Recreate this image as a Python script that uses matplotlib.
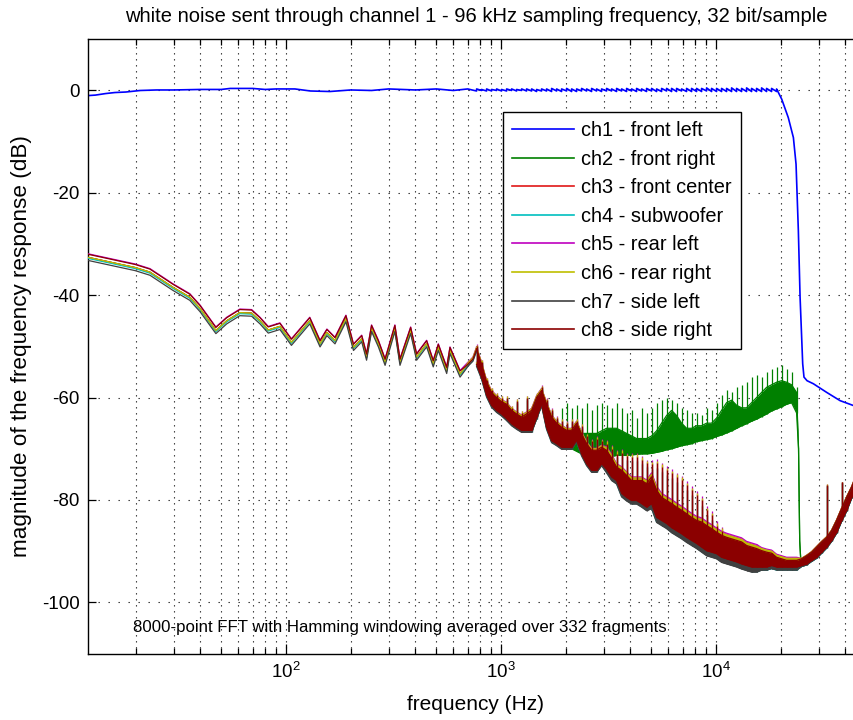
import numpy as np
import matplotlib
matplotlib.use("Agg")
import matplotlib.pyplot as plt
from matplotlib.lines import Line2D
from matplotlib.ticker import LogLocator, NullFormatter, FixedLocator

# ---------------- data ----------------
title_text = "white noise sent through channel 1 - 96 kHz sampling frequency, 32 bit/sample"
xlabel_text = "frequency (Hz)"
ylabel_text = "magnitude of the frequency response (dB)"
note_text = "8000-point FFT with Hamming windowing averaged over 332 fragments"

labels = ["ch1 - front left", "ch2 - front right", "ch3 - front center", "ch4 - subwoofer",
          "ch5 - rear left", "ch6 - rear right", "ch7 - side left", "ch8 - side right"]
colors = ["#0000ff", "#008000", "#e01818", "#00bfbf", "#bf00bf", "#bfbf00", "#404040", "#8b0000"]

yticks = [-100, -80, -60, -40, -20, 0]

# noise floor (channels 3-8), low-frequency part: a single jagged line
low_freq = [12, 19.9, 23.3, 29.9, 35.7, 39.8, 47.2, 53, 61, 69.2, 75.7, 82.7, 93.7, 106, 129, 144,
            155, 169, 190, 206, 225, 237, 250, 269, 289, 321, 339, 380, 405, 451, 484, 511, 559,
            579, 645, 705, 740]
low_db = [-32.6, -34.6, -35.5, -38.5, -40.4, -42.6, -46.9, -45.0, -43.4, -43.5, -45.0, -46.8,
          -46.1, -49.2, -45.0, -49.5, -47.3, -48.9, -44.6, -50.2, -48.5, -52.1, -46.5, -49.5,
          -53.1, -46.5, -53.1, -46.9, -52.1, -49.5, -53.4, -50.2, -54.7, -50.8, -55.4, -53.4, -52.5]

# noise floor, dense part: per frequency bin the lower edge, upper edge and spike top (dB)
fz_freq = [770, 812, 857, 904, 954, 1006, 1062, 1120, 1182, 1247,
           1315, 1388, 1464, 1544, 1629, 1719, 1814, 1913, 2019, 2130,
           2247, 2370, 2501, 2638, 2783, 2936, 3098, 3268, 3448, 3638,
           3838, 4049, 4271, 4506, 4754, 5016, 5292, 5583, 5890, 6213,
           6555, 6916, 7296, 7697, 8121, 8567, 9039, 9536, 10060, 10614,
           11197, 11813, 12463, 13148, 13871, 14634, 15439, 16288, 17184, 18129,
           19127, 20179, 21288, 22459, 23694, 24998, 26372, 27823, 29353, 30968,
           32671, 34468, 36363, 38363, 40473, 42699, 45048, 47525]
floor_lo = [-53.5, -56.0, -59.5, -61.5, -62.5, -63.2, -64.1, -65.1, -65.8, -66.4,
            -66.4, -66.4, -63.8, -61.2, -65.8, -68.4, -69.0, -69.7, -69.7, -69.7,
            -68.3, -71.0, -72.9, -74.2, -74.2, -72.9, -74.0, -75.5, -76.2, -78.7,
            -79.5, -80.1, -80.1, -80.7, -81.4, -80.7, -83.4, -84.0, -84.6, -85.4,
            -86.0, -86.6, -87.3, -87.9, -88.5, -89.2, -89.9, -90.2, -90.5, -91.2,
            -91.5, -91.8, -92.1, -92.5, -92.8, -93.1, -93.1, -93.1, -93.1, -92.8,
            -93.1, -93.1, -93.1, -93.1, -93.1, -92.8, -92.5, -91.8, -91.2, -90.2,
            -89.2, -87.9, -86.3, -84.0, -82.0, -79.5, -77.0, -75.0]
floor_hi = [-50.5, -53.5, -57.0, -59.0, -60.0, -60.8, -61.3, -62.5, -63.2, -63.8,
            -63.2, -62.5, -60.0, -58.6, -61.3, -63.8, -65.0, -65.8, -66.4, -66.4,
            -65.0, -67.1, -69.0, -70.3, -70.3, -69.7, -70.3, -71.8, -73.6, -74.2,
            -75.2, -76.2, -76.2, -76.2, -76.8, -75.5, -78.1, -79.5, -80.1, -80.7,
            -81.4, -82.0, -82.7, -83.4, -84.0, -84.3, -85.0, -85.6, -86.3, -86.9,
            -87.3, -87.6, -87.9, -88.2, -88.9, -89.2, -89.5, -89.9, -90.2, -90.4,
            -91.2, -91.5, -91.8, -91.8, -91.8, -91.5, -90.9, -90.2, -89.2, -88.2,
            -87.3, -86.0, -84.0, -81.7, -79.5, -77.5, -75.0, -73.0]
floor_spike = [-50.0, -53.0, -56.5, -58.5, -59.5, -60.0, -60.0, -62.0, -60.6, -63.0,
               -60.0, -62.0, -59.5, -58.0, -60.5, -62.5, -64.0, -64.5, -65.0, -64.5,
               -64.5, -65.5, -67.5, -68.5, -68.0, -68.5, -69.0, -70.0, -71.0, -70.8,
               -71.5, -71.6, -71.6, -72.2, -72.8, -73.0, -72.8, -73.5, -74.2, -74.8,
               -75.5, -76.1, -77.1, -78.1, -79.1, -80.1, -82.0, -83.0, -85.0, -86.0,
               -87.3, -87.6, -87.9, -88.2, -88.9, -89.2, -89.5, -89.9, -90.2, -90.4,
               -91.2, -91.5, -91.8, -91.8, -91.8, -91.5, -90.9, -90.2, -89.2, -88.2,
               -77.0, -86.0, -84.0, -76.5, -79.5, -77.5, -75.0, -73.0]

# ch2 (front right) where it leaves the floor: bins 16..64 of fz_freq
ch2_first_bin = 16
ch2_lo = [-69.0, -69.5, -70.0, -70.0,
          -70.5, -71.0, -71.0, -71.5, -71.5, -71.5, -71.5, -71.5, -71.3, -71.3,
          -71.3, -71.2, -71.1, -71.0, -71.0, -70.9, -70.7, -70.5, -70.2, -70.0,
          -69.7, -69.4, -69.2, -69.0, -68.6, -68.4, -68.2, -68.0, -67.6, -67.3,
          -66.9, -66.5, -66.0, -65.5, -65.1, -64.6, -64.2, -63.7, -63.2, -62.6,
          -62.2, -61.8, -61.3, -61.0, -63.0]
ch2_hi = [-66.0, -66.0, -66.5, -66.0,
          -66.0, -67.0, -67.0, -67.0, -67.0, -66.5, -66.0, -66.0, -66.0, -66.5,
          -67.0, -67.5, -68.0, -68.0, -68.0, -67.5, -66.5, -65.0, -63.5, -62.5,
          -63.5, -65.0, -66.0, -66.0, -65.5, -65.5, -65.0, -65.0, -64.0, -62.5,
          -61.0, -60.5, -61.5, -62.0, -62.0, -61.0, -60.0, -59.0, -58.0, -57.5,
          -57.0, -56.7, -57.0, -57.5, -59.0]
ch2_spike = [-64.0, -62.0, -61.0, -62.0,
             -61.5, -62.0, -61.0, -62.5, -61.5, -61.0, -61.5, -62.0, -61.0, -62.0,
             -63.0, -62.5, -64.0, -62.0, -63.0, -62.0, -61.0, -60.5, -60.0, -60.5,
             -61.0, -62.0, -62.5, -63.0, -63.0, -63.5, -62.0, -62.5, -61.0, -59.5,
             -58.6, -59.0, -58.0, -57.5, -57.0, -56.0, -55.5, -56.0, -55.0, -54.5,
             -54.0, -53.7, -54.5, -55.0, -58.0]
ch2_drop_freq = [24200, 24500, 24800]
ch2_drop_db = [-70.0, -88.0, -92.0]

# ch1 (front left)
ch1_low_freq = [12, 13, 14.5, 16, 18, 21, 25, 30, 40, 50, 55, 70, 80, 90, 110, 130, 160, 200,
                250, 300, 400, 500, 600, 700]
ch1_low_db = [-1.0, -0.9, -0.6, -0.4, -0.3, 0.0, 0.1, 0.1, 0.2, 0.2, 0.4, 0.4, 0.2, 0.3, 0.3,
              -0.1, -0.2, 0.1, 0.0, 0.3, 0.1, 0.3, 0.0, 0.3]
ch1_lo = [-0.1, 0.0, -0.1, -0.1, 0.0, -0.1, -0.1, 0.0, -0.1, 0.0,
          -0.1, -0.1, -0.2, -0.1, -0.1, -0.2, -0.1, -0.2, -0.1, -0.2,
          -0.2, -0.1, -0.1, -0.2, -0.1, -0.2, -0.1, -0.1, -0.2, -0.1,
          -0.2, -0.1, -0.2, -0.1, -0.2, -0.1, -0.2, -0.2, -0.1, -0.2,
          -0.2, -0.1, -0.2, -0.2, -0.2, -0.2, -0.1, -0.2, -0.2, -0.2,
          -0.2, -0.2, -0.2, -0.2, -0.2, -0.2, -0.2, -0.2, -0.2, -0.2, -0.2]
ch1_hi = [0.3, 0.2, 0.3, 0.2, 0.3, 0.2, 0.3, 0.3, 0.2, 0.3,
          0.3, 0.3, 0.2, 0.3, 0.3, 0.4, 0.3, 0.3, 0.4, 0.3,
          0.3, 0.4, 0.3, 0.4, 0.3, 0.3, 0.4, 0.3, 0.4, 0.3,
          0.4, 0.3, 0.4, 0.3, 0.4, 0.4, 0.3, 0.4, 0.4, 0.4,
          0.4, 0.3, 0.4, 0.4, 0.4, 0.4, 0.5, 0.4, 0.4, 0.4,
          0.4, 0.5, 0.4, 0.4, 0.5, 0.4, 0.4, 0.5, 0.4, 0.4, 0.3]
ch1_drop_freq = [20210, 21680, 22900, 23560, 24150, 24600, 25300, 25650, 26500, 28370, 32750,
                 37760, 43850, 48000]
ch1_drop_db = [-1.7, -5.3, -9.2, -14.4, -27.4, -40.4, -53.4, -56.0, -56.7, -57.3, -59.0,
               -60.6, -61.6, -62.2]

# small per-channel offsets of channels 3-8 from the common floor, by frequency band
band_edges = [700, 3000, 5000, 16000, 24000]
ch_offsets = {
    3: [0.0, 0.0, 0.2, 0.3, 0.2, 0.0],
    4: [-0.2, -0.3, -0.6, -0.9, -0.6, -0.2],
    5: [0.7, 0.4, 0.7, 0.8, 0.6, 0.1],
    6: [0.0, 0.3, 0.5, 0.5, 0.4, 0.1],
    7: [-0.6, -0.4, -0.7, -1.0, -0.6, -0.2],
    8: [0.6, 0.0, 0.0, 0.0, 0.0, 0.0],
}

# ---------------- figure ----------------
plt.rcParams["font.family"] = ["Liberation Sans", "DejaVu Sans"]
plt.rcParams["mathtext.fontset"] = "custom"
plt.rcParams["mathtext.rm"] = "Liberation Sans"
plt.rcParams["axes.unicode_minus"] = False

W, H = 854, 720
fig = plt.figure(figsize=(W / 100, H / 100), dpi=100)
ax_l, ax_r, ax_t, ax_b = 88, 862.5, 39.3, 653.5
ax = fig.add_axes([ax_l / W, (H - ax_b) / H, (ax_r - ax_l) / W, (ax_b - ax_t) / H])

LW = 0.9
ff = np.array(fz_freq, float)


def band_off(freqs, offs):
    idx = np.searchsorted(band_edges, np.asarray(freqs, float))
    return np.asarray(offs, float)[idx]


def draw_band(freq, lo, hi, spike, color, z):
    freq = np.asarray(freq, float)
    ax.fill_between(freq, lo, hi, color=color, lw=0, zorder=z)
    ax.vlines(freq, lo, spike, color=color, lw=LW, zorder=z)
    ax.plot(freq, lo, color=color, lw=LW, zorder=z)
    ax.plot(freq, hi, color=color, lw=LW, zorder=z)


# ch1
c1x = list(ch1_low_freq)
c1y = list(ch1_low_db)
for f, a, b in zip(fz_freq[:len(ch1_lo)], ch1_lo, ch1_hi):
    c1x += [f, f]
    c1y += [a, b]
c1x += ch1_drop_freq
c1y += ch1_drop_db
ax.plot(c1x, c1y, color=colors[0], lw=1.2, zorder=2)

# ch2
n2 = len(ch2_lo)
lo2 = np.array(floor_lo, float)
hi2 = np.array(floor_hi, float)
sp2 = np.array(floor_spike, float)
lo2[ch2_first_bin:ch2_first_bin + n2] = ch2_lo
hi2[ch2_first_bin:ch2_first_bin + n2] = ch2_hi
sp2[ch2_first_bin:ch2_first_bin + n2] = ch2_spike
cut = ch2_first_bin + n2
f2 = np.r_[ff[:cut], ch2_drop_freq, ff[cut:]]
lo2 = np.r_[lo2[:cut], ch2_drop_db, lo2[cut:]]
hi2 = np.r_[hi2[:cut], ch2_drop_db, hi2[cut:]]
sp2 = np.r_[sp2[:cut], ch2_drop_db, sp2[cut:]]
ax.plot(list(low_freq) + [fz_freq[0]], list(low_db) + [floor_hi[0]], color=colors[1], lw=LW, zorder=3)
draw_band(f2, lo2, hi2, sp2, colors[1], 3)

# ch3..ch8
for ch in range(3, 9):
    offs = ch_offsets[ch]
    col = colors[ch - 1]
    z = ch + 1
    ol = band_off(low_freq, offs)
    of = band_off(fz_freq, offs)
    ax.plot(list(low_freq) + [fz_freq[0]],
            list(np.asarray(low_db) + ol) + [floor_hi[0] + of[0]], color=col, lw=LW, zorder=z)
    draw_band(ff, np.asarray(floor_lo) + of, np.asarray(floor_hi) + of,
              np.asarray(floor_spike) + of, col, z)

# axes styling
ax.set_xscale("log")
ax.set_xlim(12, 48000)
ax.set_ylim(-110, 10)
ax.set_yticks(yticks)
ax.set_yticklabels([str(v) for v in yticks])
ax.xaxis.set_major_locator(FixedLocator([1e2, 1e3, 1e4]))
ax.set_xticklabels([r"$\mathdefault{10^{2}}$", r"$\mathdefault{10^{3}}$", r"$\mathdefault{10^{4}}$"])
ax.xaxis.set_minor_locator(LogLocator(base=10, subs=np.arange(2, 10), numticks=20))
ax.xaxis.set_minor_formatter(NullFormatter())

ax.xaxis.grid(True, which="both", color="0.15", lw=0.8, linestyle=(0, (1.2, 4.2)))
ax.yaxis.grid(True, which="major", color="0.15", lw=0.8, linestyle=(0, (1.2, 7.8)))
ax.set_axisbelow(True)

ax.tick_params(which="both", direction="in", top=True, right=True, colors="black",
               labelsize=13.5, width=0.9)
ax.tick_params(axis="x", which="major", length=7, pad=6)
ax.tick_params(axis="x", which="minor", length=4)
ax.tick_params(axis="y", which="major", length=6, pad=6)
for s in ax.spines.values():
    s.set_linewidth(1.0)
    s.set_color("black")

fig.text(476 / W, 1 - 17 / H, title_text, ha="center", va="center", fontsize=14.5)
fig.text(476 / W, 1 - 705 / H, xlabel_text, ha="center", va="center", fontsize=15)
fig.text(22 / W, 1 - 346 / H, ylabel_text, ha="center", va="center", rotation=90, fontsize=16.2)
ax.text(19.4, -105, note_text, ha="left", va="center", fontsize=12.1, zorder=12)

handles = [Line2D([0], [0], color=c, lw=1.2) for c in colors]
leg = ax.legend(handles, labels, loc="upper left", bbox_to_anchor=(503 / W, 1 - 112 / H),
                bbox_transform=fig.transFigure, borderaxespad=0, fontsize=14.4,
                handlelength=3.1, handletextpad=0.35, labelspacing=0.48, borderpad=0.45,
                fancybox=False, framealpha=1, edgecolor="black")
leg.get_frame().set_linewidth(1.0)
leg.set_zorder(20)

fig.savefig("out.png", dpi=100)
